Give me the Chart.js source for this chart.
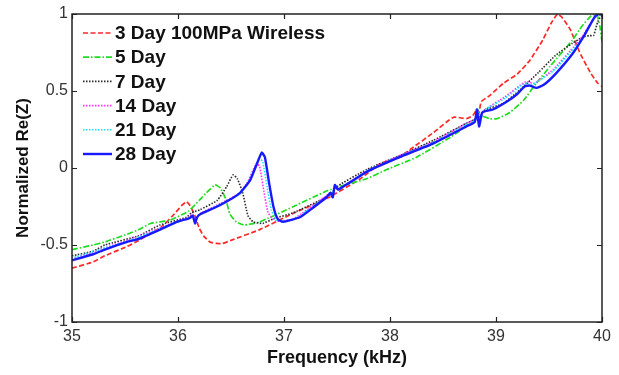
<!DOCTYPE html>
<html>
<head>
<meta charset="utf-8">
<script src="https://cdn.jsdelivr.net/npm/chart.js@4/dist/chart.umd.min.js"></script>
<style>
  html, body { margin: 0; padding: 0; background: #fff; }
  #wrap { width: 619px; height: 375px; }
</style>
</head>
<body>
<div id="wrap"><canvas id="c" width="619" height="375"></canvas></div>
<script>
// ---- data (frequency in kHz, normalized Re(Z)) ----
const seriesLabels = ["3 Day 100MPa Wireless", "5 Day", "7 Day", "14 Day", "21 Day", "28 Day"];

const freq3 = [35.00,35.20,35.31,35.52,35.63,35.83,35.95,36.04,36.08,36.11,36.16,36.20,36.24,36.30,36.36,36.42,36.50,36.77,37.10,37.40,37.72,37.91,38.09,38.19,38.41,38.60,38.72,38.78,38.82,38.84,38.86,38.94,39.07,39.20,39.32,39.44,39.52,39.58,39.62,39.70,39.79,39.89,39.96,40.00];
const val3  = [-0.65,-0.61,-0.57,-0.51,-0.47,-0.39,-0.31,-0.24,-0.22,-0.24,-0.31,-0.39,-0.44,-0.48,-0.49,-0.49,-0.47,-0.40,-0.29,-0.20,-0.07,0.03,0.07,0.12,0.23,0.33,0.32,0.34,0.38,0.36,0.43,0.47,0.55,0.61,0.70,0.83,0.94,1.00,0.98,0.90,0.75,0.62,0.55,0.53];

const freq5 = [35.00,35.20,35.31,35.52,35.63,35.74,35.92,36.10,36.20,36.27,36.35,36.40,36.45,36.49,36.55,36.62,36.77,37.09,37.40,37.44,37.46,37.48,37.78,37.97,38.25,38.57,38.78,38.82,38.86,38.94,39.01,39.13,39.26,39.38,39.51,39.72,39.81,39.90,39.95,39.98,40.00];
const val5  = [-0.53,-0.50,-0.48,-0.43,-0.40,-0.36,-0.34,-0.28,-0.21,-0.16,-0.11,-0.13,-0.20,-0.30,-0.35,-0.37,-0.35,-0.25,-0.15,-0.14,-0.16,-0.13,-0.07,-0.01,0.07,0.20,0.30,0.33,0.34,0.32,0.32,0.36,0.44,0.55,0.66,0.83,0.92,0.99,1.00,0.92,0.82];

const freq7 = [35.00,35.20,35.31,35.63,35.83,36.08,36.13,36.21,36.37,36.46,36.52,36.56,36.61,36.66,36.71,36.80,36.90,37.09,37.40,37.44,37.46,37.48,37.78,38.09,38.41,38.72,38.81,38.83,38.85,38.88,39.07,39.23,39.40,39.56,39.72,39.82,39.88,39.92,39.96,40.00];
const val7  = [-0.57,-0.54,-0.50,-0.44,-0.37,-0.32,-0.29,-0.27,-0.21,-0.12,-0.045,-0.07,-0.16,-0.31,-0.35,-0.36,-0.33,-0.29,-0.19,-0.17,-0.19,-0.13,-0.01,0.08,0.18,0.29,0.32,0.37,0.30,0.37,0.42,0.51,0.62,0.73,0.81,0.85,0.86,0.86,0.95,1.00];

const freq14 = [35.00,35.52,35.83,36.10,36.14,36.16,36.20,36.40,36.58,36.65,36.74,36.77,36.81,36.85,36.92,37.09,37.40,37.44,37.46,37.48,37.51,37.78,38.09,38.41,38.72,38.81,38.83,38.85,38.88,39.08,39.28,39.36,39.54,39.70,39.82,39.92,40.00];
const val14  = [-0.59,-0.47,-0.39,-0.32,-0.30,-0.34,-0.30,-0.23,-0.165,-0.10,0.03,0.01,-0.15,-0.29,-0.345,-0.33,-0.18,-0.16,-0.19,-0.12,-0.14,-0.02,0.08,0.17,0.29,0.32,0.38,0.29,0.37,0.46,0.56,0.55,0.64,0.76,0.86,0.97,1.00];

const freq21 = [35.00,35.52,35.83,36.10,36.14,36.16,36.19,36.40,36.58,36.65,36.77,36.80,36.84,36.88,36.93,37.09,37.40,37.44,37.46,37.48,37.51,37.78,38.09,38.41,38.72,38.81,38.83,38.85,38.88,39.08,39.27,39.34,39.54,39.70,39.82,39.92,40.00];
const val21  = [-0.585,-0.475,-0.395,-0.325,-0.31,-0.35,-0.31,-0.235,-0.17,-0.11,0.06,0.04,-0.12,-0.27,-0.34,-0.335,-0.185,-0.16,-0.19,-0.12,-0.14,-0.02,0.075,0.165,0.28,0.31,0.38,0.28,0.37,0.45,0.55,0.54,0.63,0.75,0.85,0.97,1.00];

const freq28 = [35.00,35.20,35.31,35.52,35.63,35.83,35.99,36.11,36.14,36.16,36.18,36.21,36.40,36.58,36.68,36.74,36.79,36.82,36.86,36.90,36.94,36.99,37.15,37.27,37.40,37.44,37.46,37.48,37.51,37.78,38.09,38.41,38.72,38.80,38.82,38.84,38.87,38.97,39.10,39.20,39.27,39.32,39.38,39.45,39.56,39.72,39.84,39.93,39.97,40.00];
const val28  = [-0.60,-0.56,-0.53,-0.48,-0.46,-0.40,-0.35,-0.325,-0.31,-0.36,-0.32,-0.30,-0.24,-0.165,-0.08,0.02,0.10,0.07,-0.10,-0.25,-0.33,-0.35,-0.32,-0.26,-0.19,-0.16,-0.19,-0.11,-0.14,-0.025,0.07,0.16,0.27,0.30,0.38,0.27,0.36,0.38,0.43,0.48,0.53,0.535,0.52,0.54,0.61,0.74,0.87,0.98,1.00,1.00];

const xTicks = [35, 36, 37, 38, 39, 40];
const yTicks = [-1, -0.5, 0, 0.5, 1];

// ---- chart ----
function pts(f, v) { return f.map((x, i) => ({ x: x, y: v[i] })); }

const styles = [
  { color: 'rgb(255,40,40)',  dash: [5, 2.5],        width: 1.7, order: 5 },
  { color: 'rgb(30,220,30)',  dash: [6, 2, 1.5, 2],  width: 1.7, order: 4 },
  { color: 'rgb(40,40,40)',   dash: [1.5, 1.5],      width: 1.6, order: 3 },
  { color: 'rgb(255,50,255)', dash: [1.5, 1.5],      width: 1.6, order: 2 },
  { color: 'rgb(30,225,255)', dash: [1.5, 1.5],      width: 1.6, order: 1 },
  { color: 'rgb(25,25,255)',  dash: [],              width: 2.4, order: 0 }
];
const allF = [freq3, freq5, freq7, freq14, freq21, freq28];
const allV = [val3, val5, val7, val14, val21, val28];

const datasets = seriesLabels.map((lab, i) => ({
  label: lab,
  data: pts(allF[i], allV[i]),
  borderColor: styles[i].color,
  backgroundColor: styles[i].color,
  borderDash: styles[i].dash,
  borderWidth: styles[i].width,
  order: styles[i].order,
  pointRadius: 0,
  tension: 0.15,
  fill: false
}));

const frameAndLegend = {
  id: 'frameAndLegend',
  afterDraw(chart) {
    const { ctx, chartArea: a, scales } = chart;
    ctx.save();
    // frame
    ctx.strokeStyle = '#222';
    ctx.lineWidth = 1.5;
    ctx.setLineDash([]);
    ctx.strokeRect(a.left, a.top, a.right - a.left, a.bottom - a.top);
    // inward ticks
    const tl = 5;
    ctx.lineWidth = 1.2;
    ctx.beginPath();
    xTicks.forEach(t => {
      const px = Math.round(scales.x.getPixelForValue(t)) + 0.5;
      ctx.moveTo(px, a.bottom); ctx.lineTo(px, a.bottom - tl);
      ctx.moveTo(px, a.top); ctx.lineTo(px, a.top + tl);
    });
    yTicks.forEach(t => {
      const py = Math.round(scales.y.getPixelForValue(t)) + 0.5;
      ctx.moveTo(a.left, py); ctx.lineTo(a.left + tl, py);
      ctx.moveTo(a.right, py); ctx.lineTo(a.right - tl, py);
    });
    ctx.stroke();
    // legend (inside top-left)
    const x0 = a.left + 11, lineLen = 29, rowH = 24.2, y0 = a.top + 19;
    ctx.font = 'bold 19px "Liberation Sans", Arial, sans-serif';
    ctx.textBaseline = 'middle';
    ctx.textAlign = 'left';
    chart.data.datasets.forEach((ds, i) => {
      const y = y0 + i * rowH;
      ctx.strokeStyle = ds.borderColor;
      ctx.lineWidth = ds.borderWidth;
      ctx.setLineDash(ds.borderDash);
      ctx.beginPath();
      ctx.moveTo(x0, y); ctx.lineTo(x0 + lineLen, y);
      ctx.stroke();
      ctx.setLineDash([]);
      ctx.fillStyle = '#111';
      ctx.fillText(ds.label, x0 + lineLen + 3, y + 1);
    });
    ctx.restore();
  }
};

const fmt = v => String(v);

new Chart(document.getElementById('c'), {
  type: 'line',
  data: { datasets },
  options: {
    responsive: false,
    animation: false,
    devicePixelRatio: 1,
    layout: { padding: { left: 0, right: 17, top: 14, bottom: 0 } },
    plugins: { legend: { display: false }, tooltip: { enabled: false } },
    scales: {
      x: {
        type: 'linear', min: 35, max: 40,
        afterFit(s) { s.height = 53; },
        afterBuildTicks(s) { s.ticks = xTicks.map(v => ({ value: v })); },
        grid: { display: false, drawTicks: false },
        border: { display: false },
        ticks: { autoSkip: false, padding: 5, color: '#333', maxRotation: 0, callback: fmt,
                 font: { family: '"Liberation Sans", Arial, sans-serif', size: 16 } },
        title: { display: true, text: 'Frequency (kHz)', color: '#111',
                 font: { family: '"Liberation Sans", Arial, sans-serif', size: 18, weight: 'bold' },
                 padding: { top: 0, bottom: 6 } }
      },
      y: {
        type: 'linear', min: -1, max: 1,
        afterFit(s) { s.width = 72; },
        afterBuildTicks(s) { s.ticks = yTicks.map(v => ({ value: v })); },
        grid: { display: false, drawTicks: false },
        border: { display: false },
        ticks: { autoSkip: false, padding: 4, color: '#333', callback: fmt,
                 font: { family: '"Liberation Sans", Arial, sans-serif', size: 16 } },
        title: { display: true, text: 'Normalized Re(Z)', color: '#111',
                 font: { family: '"Liberation Sans", Arial, sans-serif', size: 17, weight: 'bold' },
                 padding: { top: 13, bottom: 0 } }
      }
    }
  },
  plugins: [frameAndLegend]
});
</script>
</body>
</html>
